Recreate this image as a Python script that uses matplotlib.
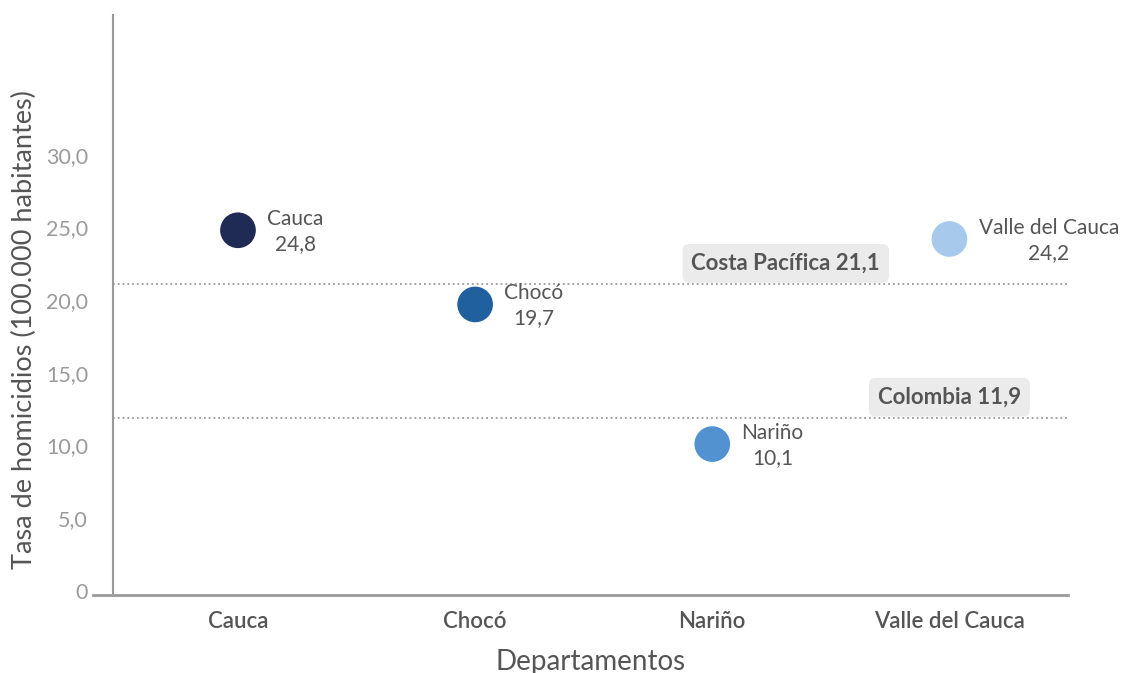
import matplotlib.pyplot as plt
from matplotlib.lines import Line2D

# Datos
departamentos = ['Cauca', 'Chocó', 'Nariño', 'Valle del Cauca']
tasas = [24.8, 19.7, 10.1, 24.2]
colores = ['#1f2a55', '#20609e', '#5292d0', '#a7caec']
ref_nombres = ['Costa Pacífica', 'Colombia']
ref_valores = [21.1, 11.9]
y_ticks = [0, 5, 10, 15, 20, 25, 30]

plt.rcParams['font.family'] = ['Lato', 'DejaVu Sans']

fig = plt.figure(figsize=(11.28, 6.73), dpi=100)
ax = fig.add_axes([113 / 1128, 1 - 593 / 673, (1068 - 113) / 1128, (593 - 15) / 673])

x = list(range(len(departamentos)))
ax.scatter(x, tasas, s=660, c=colores, zorder=3, linewidths=0)

# Etiquetas de los puntos
for xi, nombre, valor in zip(x, departamentos, tasas):
    ax.annotate(nombre + '\n' + f'{valor:.1f}'.replace('.', ','),
                xy=(xi, valor), xytext=(21, -1), textcoords='offset points',
                ha='left', va='center', multialignment='center',
                fontsize=15, color='#555555', linespacing=1.3)

# Lineas de referencia
ref_x = [2.31, 3.0]
for nombre, valor, rx in zip(ref_nombres, ref_valores, ref_x):
    ax.axhline(valor, color='#999999', linestyle=':', linewidth=1.3, zorder=1)
    ax.text(rx, valor + 1.42, f'{nombre} {valor:.1f}'.replace('.', ','),
            ha='center', va='center', fontsize=16, fontweight='bold',
            color='#555555',
            bbox=dict(boxstyle='round,pad=0.4,rounding_size=0.3',
                      fc='#ebebeb', ec='none'))

ax.set_xlim(-0.527, 3.5)
ax.set_ylim(-0.14, 39.6)
ax.set_xticks(x)
ax.set_xticklabels(departamentos, fontsize=16, fontweight='semibold', color='#555555')
ax.set_yticks(y_ticks)
ax.set_yticklabels(['0'] + [f'{v:.1f}'.replace('.', ',') for v in y_ticks[1:]],
                   fontsize=15.5, color='#9a9a9a')
ax.tick_params(axis='both', length=0)
ax.tick_params(axis='x', pad=13)
ax.tick_params(axis='y', pad=18)

for lado in ['top', 'right', 'bottom']:
    ax.spines[lado].set_visible(False)
ax.spines['left'].set_color('#999999')
ax.spines['left'].set_linewidth(1.5)

# Linea inferior que sobresale a la izquierda
fig.add_artist(Line2D([93 / 1128, 1068 / 1128], [1 - 595 / 673, 1 - 595 / 673],
                      color='#999999', linewidth=2))

ax.set_xlabel('Departamentos', fontsize=20, color='#555555', labelpad=12)
ax.set_ylabel('Tasa de homicidios (100.000 habitantes)', fontsize=19.5,
              color='#555555')
ax.yaxis.set_label_coords(-0.08, 0.455)

fig.savefig('out.png', dpi=100)
